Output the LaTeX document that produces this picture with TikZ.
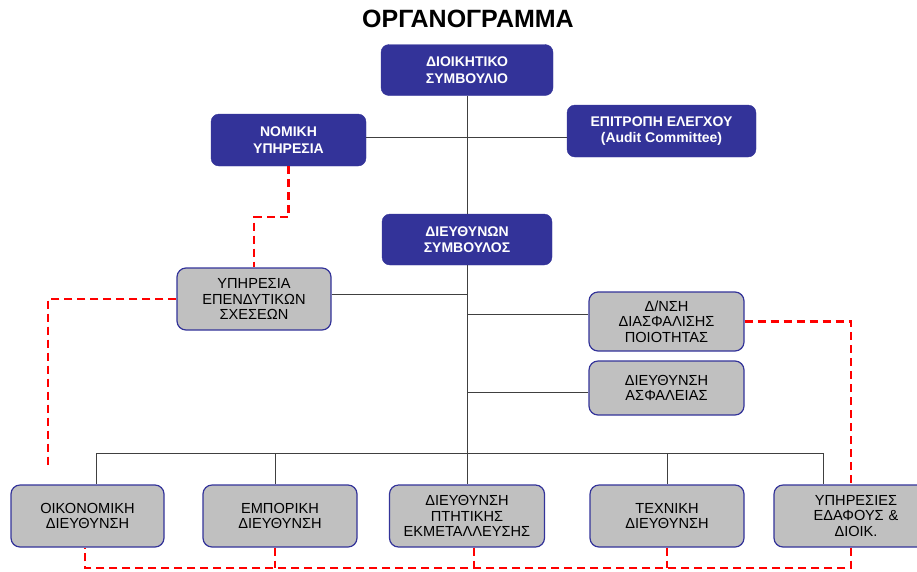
\documentclass[tikz,border=0pt]{standalone}
\usepackage{fontspec}
\setmainfont{Liberation Sans}
\usepackage{tikz}
\definecolor{boardblue}{RGB}{51,51,153}
\definecolor{boxgrey}{RGB}{192,192,192}
\definecolor{dashred}{RGB}{255,0,0}
\tikzset{
	headbox/.style={draw=boardblue, fill=boardblue, rounded corners=8pt, text=white, align=center, inner sep=0pt, font=\bfseries\fontsize{14}{16.5}\selectfont},
	unitbox/.style={draw=boardblue, line width=1.2pt, fill=boxgrey, rounded corners=9pt, align=center, inner sep=0pt, font=\fontsize{14.6}{15.5}\selectfont},
	conn/.style={black!75, line width=1pt},
	redlink/.style={dashred, line width=2.2pt, dash pattern=on 8pt off 5pt},
}

\begin{document}
\begin{tikzpicture}[x=1pt, y=-1pt]
		%%%%% START %%%%%
		\useasboundingbox (0, 0) rectangle (917, 571);
		
		\node[font=\bfseries\fontsize{25}{27}\selectfont] (title) at (468, 19) {ΟΡΓΑΝΟΓΡΑΜΜΑ};
		
		% top level
		\node[headbox, minimum width=172, minimum height=51] (board) at (467, 70) {ΔΙΟΙΚΗΤΙΚΟ\\ΣΥΜΒΟΥΛΙΟ};
		\node[headbox, minimum width=155, minimum height=52] (legal) at (288.5, 140) {ΝΟΜΙΚΗ\\ΥΠΗΡΕΣΙΑ};
		\node[headbox, minimum width=189, minimum height=52] (audit) at (661.5, 131) {ΕΠΙΤΡΟΠΗ ΕΛΕΓΧΟΥ\\(Audit Committee)};
		\node[headbox, minimum width=170, minimum height=51] (ceo) at (467, 239.5) {ΔΙΕΥΘΥΝΩΝ\\ΣΥΜΒΟΥΛΟΣ};
		
		% staff units
		\node[unitbox, minimum width=154, minimum height=62] (invest) at (254, 299) {ΥΠΗΡΕΣΙΑ\\ΕΠΕΝΔΥΤΙΚΩΝ\\ΣΧΕΣΕΩΝ};
		\node[unitbox, minimum width=155, minimum height=59] (quality) at (666.5, 321.5) {Δ/ΝΣΗ\\ΔΙΑΣΦΑΛΙΣΗΣ\\ΠΟΙΟΤΗΤΑΣ};
		\node[unitbox, minimum width=155, minimum height=54] (safety) at (666.5, 388) {ΔΙΕΥΘΥΝΣΗ\\ΑΣΦΑΛΕΙΑΣ};
		
		% divisions
		\node[unitbox, minimum width=153, minimum height=62] (finance) at (87.5, 516) {ΟΙΚΟΝΟΜΙΚΗ\\ΔΙΕΥΘΥΝΣΗ};
		\node[unitbox, minimum width=154, minimum height=62] (commercial) at (280, 516) {ΕΜΠΟΡΙΚΗ\\ΔΙΕΥΘΥΝΣΗ};
		\node[unitbox, minimum width=155, minimum height=62] (flight) at (467, 516) {ΔΙΕΥΘΥΝΣΗ\\ΠΤΗΤΙΚΗΣ\\ΕΚΜΕΤΑΛΛΕΥΣΗΣ};
		\node[unitbox, minimum width=154, minimum height=62] (technical) at (667, 516) {ΤΕΧΝΙΚΗ\\ΔΙΕΥΘΥΝΣΗ};
		\node[unitbox, minimum width=164, minimum height=62, text width=152] (ground) at (856, 516) {ΥΠΗΡΕΣΙΕΣ\\ΕΔΑΦΟΥΣ \&\\ΔΙΟΙΚ.};
		
		\coordinate (bus) at (467, 453);
		\coordinate (finup) at (48, 468);
		\coordinate (redbus) at (851, 568);
		
		% solid lines
		\draw[conn] (board.south) -- (ceo.north);
		\draw[conn] (ceo.south) -- (flight.north);
		\draw[conn] ([yshift=3pt]legal.east) -- ([yshift=3pt]legal.east -| audit.west);
		\draw[conn] ([yshift=5pt]invest.east) -- ([yshift=5pt]invest.east -| ceo.south);
		\draw[conn] ([yshift=7pt]quality.west) -- ([yshift=7pt]quality.west -| ceo.south);
		\draw[conn] ([yshift=-4pt]safety.west) -- ([yshift=-4pt]safety.west -| ceo.south);
		\draw[conn] ([xshift=8.5pt]finance.north) |- (bus) -| ([xshift=-33pt]ground.north);
		\draw[conn] ([xshift=-5pt]commercial.north) |- (bus);
		\draw[conn] (technical.north) |- (bus);
		
		% dashed lines
		\draw[redlink] (legal.south) -- ++(0, 51) -| (invest.north);
		\draw[redlink] (invest.west) -| (finup);
		\draw[redlink] (quality.east) -| ([xshift=-5pt]ground.north);
		\draw[redlink] ([xshift=-5pt]ground.south) -- (redbus) -| ([xshift=-2.5pt]finance.south);
		\draw[redlink] ([xshift=-5pt]commercial.south) -- ([xshift=-5pt]commercial.south |- redbus);
		\draw[redlink] ([xshift=7pt]flight.south) -- ([xshift=7pt]flight.south |- redbus);
		\draw[redlink] (technical.south) -- (technical.south |- redbus);
		%%%%% END %%%%%
	\end{tikzpicture}
\end{document}
